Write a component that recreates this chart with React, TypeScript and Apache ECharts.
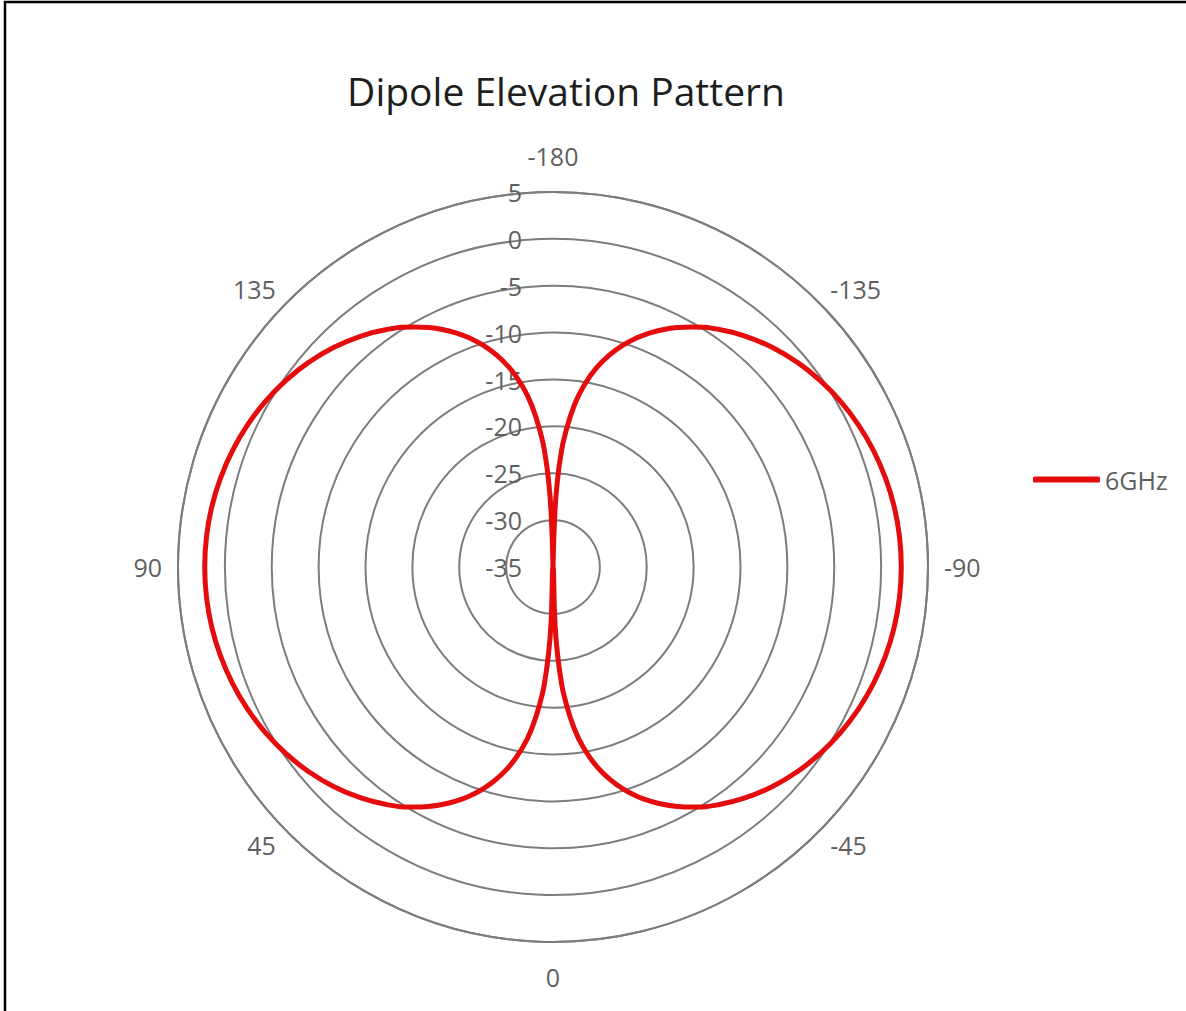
import React, { useEffect, useRef } from "react";
import * as echarts from "echarts";

// Elevation angle (degrees) as shown on the chart's angular axis
const angles: number[] = [
  -180, -179, -178, -177, -176, -175, -172.5, -170, -167.5, -165, -162.5, -160, -157.5, -155, -152.5, -150,
  -145, -140, -135, -130, -125, -120, -115, -110, -105, -100, -95,
  -90, -85, -80, -75, -70, -65, -60, -55, -50, -45, -40, -35,
  -30, -27.5, -25, -22.5, -20, -17.5, -15, -12.5, -10, -7.5, -5, -4, -3, -2, -1,
  0, 1, 2, 3, 4, 5, 7.5, 10, 12.5, 15, 17.5, 20, 22.5, 25, 27.5, 30,
  35, 40, 45, 50, 55, 60, 65, 70, 75, 80, 85,
  90, 95, 100, 105, 110, 115, 120, 125, 130, 135, 140, 145,
  150, 152.5, 155, 157.5, 160, 162.5, 165, 167.5, 170, 172.5, 175, 176, 177, 178, 179, 180,
];

// Gain (dBi) at 6 GHz
const gain6GHz: number[] = [
  -35, -35, -29.09, -25.59, -23.07, -21.11, -17.6, -15.09, -13.14, -11.55, -10.19, -9.01, -7.98, -7.04, -6.2, -5.43,
  -4.07, -2.91, -1.89, -1.01, -0.26, 0.39, 0.93, 1.37, 1.71, 1.96, 2.1,
  2.15, 2.1, 1.96, 1.71, 1.37, 0.93, 0.39, -0.26, -1.01, -1.89, -2.91, -4.07,
  -5.43, -6.2, -7.04, -7.98, -9.01, -10.19, -11.55, -13.14, -15.09, -17.6, -21.11, -23.07, -25.59, -29.09, -35,
  -35, -35, -29.09, -25.59, -23.07, -21.11, -17.6, -15.09, -13.14, -11.55, -10.19, -9.01, -7.98, -7.04, -6.2, -5.43,
  -4.07, -2.91, -1.89, -1.01, -0.26, 0.39, 0.93, 1.37, 1.71, 1.96, 2.1,
  2.15, 2.1, 1.96, 1.71, 1.37, 0.93, 0.39, -0.26, -1.01, -1.89, -2.91, -4.07,
  -5.43, -6.2, -7.04, -7.98, -9.01, -10.19, -11.55, -13.14, -15.09, -17.6, -21.11, -23.07, -25.59, -29.09, -35, -35,
];

const seriesName = "6GHz";
const titleText = "Dipole Elevation Pattern";
const radiusMin = -35;
const radiusMax = 5;
const radiusStep = 5;
const angleMin = -180;
const angleMax = 180;
const angleStep = 45;

const FONT = "'Open Sans', 'Noto Sans', sans-serif";
const LABEL_COLOR = "#5f5f5f";
const GRID_COLOR = "#7d7d7d";
const RED = "#e40c0c";

function angleLabel(v: number): string {
  if (v === 180) return "";
  const s = String(v);
  if (v === -180) return `{t|${s}}`;
  if (v === 0) return `{b|${s}}`;
  if (v === 90 || v === -90) return `{s|${s}}`;
  return `{d|${s}}`;
}

export default function App() {
  const ref = useRef<HTMLDivElement>(null);

  useEffect(() => {
    document.body.style.margin = "0";
    if (!ref.current) return;
    const chart = echarts.init(ref.current, undefined, { renderer: "svg" });
    const data = angles.map((a, i) => [gain6GHz[i], a]);
    const lbl = { fontFamily: FONT, fontSize: 25, color: LABEL_COLOR };
    chart.setOption({
      animation: false,
      backgroundColor: "#ffffff",
      title: {
        text: titleText,
        left: 561,
        top: 66,
        textAlign: "center",
        textStyle: {
          fontFamily: FONT,
          fontSize: 39,
          fontWeight: "normal",
          color: "#1e1e1e",
        },
      },
      legend: {
        data: [seriesName],
        left: 1033,
        top: 467,
        padding: 0,
        icon: "roundRect",
        itemWidth: 67,
        itemHeight: 6,
        textStyle: { fontFamily: FONT, fontSize: 25, color: LABEL_COLOR },
      },
      polar: { center: [553, 567], radius: 375 },
      angleAxis: {
        type: "value",
        min: angleMin,
        max: angleMax,
        interval: angleStep,
        startAngle: 90,
        clockwise: true,
        axisLine: { show: true, lineStyle: { color: GRID_COLOR, width: 2 } },
        axisTick: { show: false },
        splitLine: { show: false },
        axisLabel: {
          margin: 0,
          ...lbl,
          formatter: angleLabel,
          rich: {
            t: { ...lbl, padding: [0, 0, 24, 0] },
            b: { ...lbl, padding: [22, 0, 0, 0] },
            s: { ...lbl, padding: [0, 16, 0, 16] },
            d: { ...lbl, padding: [0, 12, 0, 12] },
          },
        },
      },
      radiusAxis: {
        type: "value",
        min: radiusMin,
        max: radiusMax,
        interval: radiusStep,
        axisLine: { show: false },
        axisTick: { show: false },
        splitLine: { show: true, lineStyle: { color: GRID_COLOR, width: 2 } },
        axisLabel: {
          margin: 31,
          ...lbl,
        },
      },
      series: [
        {
          name: seriesName,
          type: "line",
          coordinateSystem: "polar",
          data,
          symbol: "none",
          smooth: 0.5,
          lineStyle: { color: RED, width: 5 },
          itemStyle: { color: RED },
        },
      ],
      graphic: [
        {
          type: "rect",
          z: 100,
          shape: { x: 5, y: 2, width: 1400, height: 1400 },
          style: { fill: "none", stroke: "#000", lineWidth: 2.5 },
        },
      ],
    });
    return () => chart.dispose();
  }, []);

  return (
    <div
      ref={ref}
      style={{ position: "fixed", left: 0, top: 0, width: 1186, height: 1011 }}
    />
  );
}
